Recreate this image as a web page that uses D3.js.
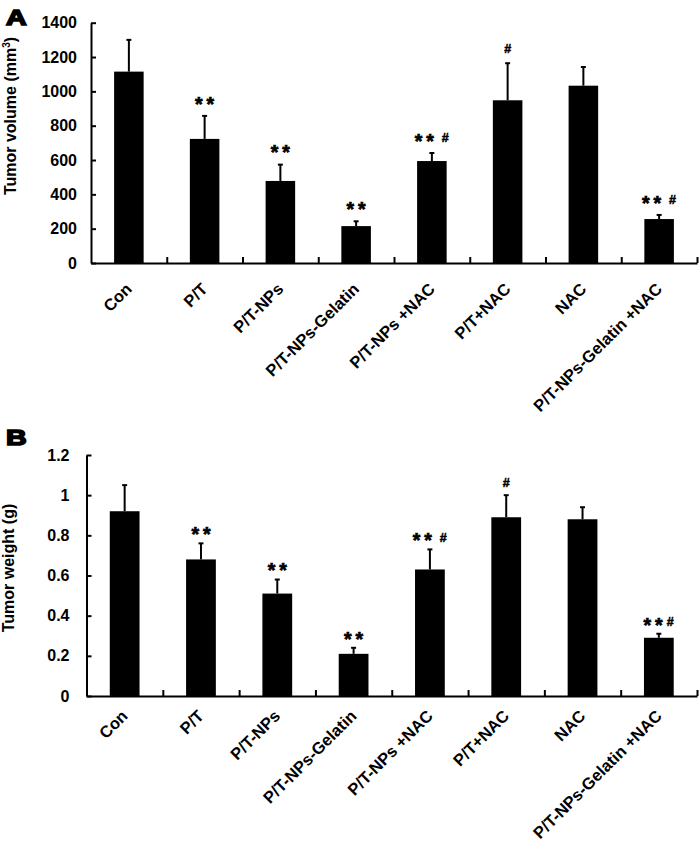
<!DOCTYPE html>
<html>
<head>
<meta charset="utf-8">
<script src="https://cdn.jsdelivr.net/npm/d3@7"></script>
<style>
  html, body { margin: 0; padding: 0; background: #fff; }
  svg { display: block; }
  text { font-family: "Liberation Sans", Arial, sans-serif; font-weight: bold; fill: #000; }
</style>
</head>
<body>
<svg id="chart" width="700" height="845"></svg>
<script>
const categories = ["Con", "P/T", "P/T-NPs", "P/T-NPs-Gelatin", "P/T-NPs +NAC", "P/T+NAC", "NAC", "P/T-NPs-Gelatin +NAC"];

const volumeMean = [1115, 723, 478, 215, 594, 948, 1033, 256];
const volumeErr  = [185, 134, 95, 28, 47, 216, 109, 24];
const volumeTicks = [0, 200, 400, 600, 800, 1000, 1200, 1400];
const volumeTickLabels = ["0", "200", "400", "600", "800", "1000", "1200", "1400"];
const volumeMarks = ["", "**", "**", "**", "** #", "#", "", "** #"];

const weightMean = [0.92, 0.68, 0.51, 0.21, 0.63, 0.89, 0.88, 0.29];
const weightErr  = [0.13, 0.08, 0.07, 0.03, 0.10, 0.11, 0.06, 0.02];
const weightTicks = [0, 0.2, 0.4, 0.6, 0.8, 1.0, 1.2];
const weightTickLabels = ["0", "0.2", "0.4", "0.6", "0.8", "1", "1.2"];
const weightMarks = ["", "**", "**", "**", "** #", "#", "", "**#"];

const svg = d3.select("#chart");

function panel(opt) {
  const g = svg.append("g");
  const x = d3.scaleBand().domain(categories).range([opt.x0, opt.x1])
    .paddingInner(0.61).paddingOuter(0.305);
  const y = d3.scaleLinear().domain([0, opt.max]).range([opt.yBot, opt.yTop]);

  // y axis
  const yAxis = d3.axisLeft(y).tickValues(opt.ticks)
    .tickFormat((d, i) => opt.tickLabels[i])
    .tickSizeInner(-5).tickSizeOuter(0).tickPadding(opt.tickPad);
  const ya = g.append("g").attr("transform", `translate(${opt.x0},0)`).call(yAxis);
  ya.selectAll("path, line").attr("stroke", "#000").attr("stroke-width", 2);
  ya.selectAll("text").style("font-size", "16px").style("font-family", "'Liberation Sans', Arial, sans-serif").style("font-weight", "bold").attr("fill", "#000");

  // x axis with boundary ticks
  const xi = d3.scaleLinear().domain([0, categories.length]).range([opt.x0, opt.x1]);
  const xAxis = d3.axisBottom(xi).tickValues(d3.range(1, categories.length + 1))
    .tickFormat("").tickSizeInner(-6).tickSizeOuter(0);
  const xa = g.append("g").attr("transform", `translate(0,${opt.yBot})`).call(xAxis);
  xa.selectAll("path, line").attr("stroke", "#000").attr("stroke-width", 2);

  // bars
  g.selectAll("rect.bar").data(opt.mean).join("rect")
    .attr("class", "bar")
    .attr("x", (d, i) => x(categories[i]))
    .attr("width", x.bandwidth())
    .attr("y", d => y(d))
    .attr("height", d => y(0) - y(d))
    .attr("fill", "#000");

  // error bars (upper only)
  const cx = i => x(categories[i]) + x.bandwidth() / 2;
  g.selectAll("line.err").data(opt.mean).join("line")
    .attr("class", "err")
    .attr("x1", (d, i) => cx(i)).attr("x2", (d, i) => cx(i))
    .attr("y1", d => y(d)).attr("y2", (d, i) => y(d + opt.err[i]))
    .attr("stroke", "#000").attr("stroke-width", 2);
  g.selectAll("line.cap").data(opt.mean).join("line")
    .attr("class", "cap")
    .attr("x1", (d, i) => cx(i) - 2.5).attr("x2", (d, i) => cx(i) + 2.5)
    .attr("y1", (d, i) => y(d + opt.err[i])).attr("y2", (d, i) => y(d + opt.err[i]))
    .attr("stroke", "#000").attr("stroke-width", 2);

  // significance marks
  opt.marks.forEach((m, i) => {
    if (!m) return;
    const chars = m.split("");
    const adv = chars.map(c => c === " " ? 3.5 : 11.5);
    const total = d3.sum(adv.slice(0, -1));
    let pos = cx(i) - total / 2;
    const yc = y(opt.mean[i] + opt.err[i]) - opt.markGap;
    chars.forEach((c, k) => {
      if (c !== " ") {
        const star = c === "*";
        g.append("text")
          .attr("x", pos).attr("y", star ? yc + 9.8 : yc + 4.3)
          .attr("text-anchor", "middle")
          .style("font-size", star ? "19.5px" : "12.5px")
          .attr("stroke", "#000")
          .attr("stroke-width", star ? 0.7 : 0.5)
          .text(c);
      }
      pos += adv[k];
    });
  });

  // category labels
  g.selectAll("text.cat").data(categories).join("text")
    .attr("class", "cat")
    .attr("text-anchor", "end")
    .attr("transform", d => `translate(${x(d) + x.bandwidth() / 2 + 4},${opt.yBot + opt.labOff}) rotate(-45)`)
    .style("font-size", "16.5px")
    .text(d => d);

  // y title
  const t = g.append("text")
    .attr("text-anchor", "middle")
    .attr("transform", `translate(${opt.titleX},${opt.titleY}) rotate(-90)`)
    .style("font-size", "16px");
  if (opt.sup) {
    t.append("tspan").text(opt.title);
    t.append("tspan").text(opt.sup).style("font-size", "10px").attr("dy", "-6");
    t.append("tspan").text(")").attr("dy", "6");
  } else {
    t.text(opt.title);
  }

  // panel letter
  g.append("text")
    .attr("transform", `translate(${opt.letterX},${opt.letterY}) scale(1.3,1)`)
    .style("font-size", "22px")
    .attr("stroke", "#000").attr("stroke-width", 1.6)
    .text(opt.letter);
}

panel({
  x0: 91, x1: 697, yTop: 22.7, yBot: 263, max: 1400,
  mean: volumeMean, err: volumeErr, ticks: volumeTicks, tickLabels: volumeTickLabels,
  marks: volumeMarks, markGap: 15, tickPad: 14, labOff: 27,
  title: "Tumor volume (mm", sup: "3", titleX: 16, titleY: 116,
  letter: "A", letterX: 6, letterY: 25
});

panel({
  x0: 86.5, x1: 697, yTop: 455, yBot: 696, max: 1.2,
  mean: weightMean, err: weightErr, ticks: weightTicks, tickLabels: weightTickLabels,
  marks: weightMarks, markGap: 12, tickPad: 17, labOff: 21,
  title: "Tumor weight (g)", sup: null, titleX: 14, titleY: 568,
  letter: "B", letterX: 6, letterY: 445
});
</script>
</body>
</html>
